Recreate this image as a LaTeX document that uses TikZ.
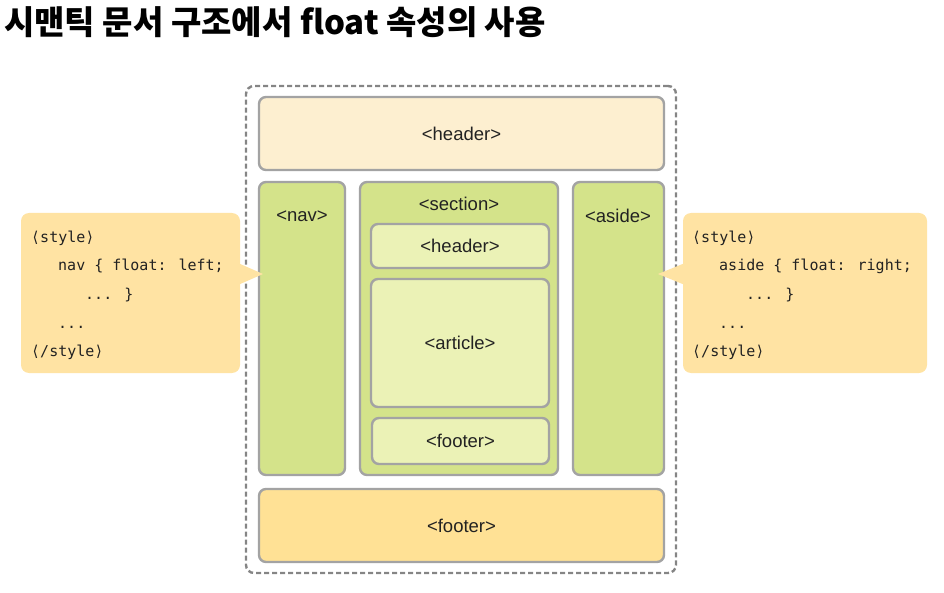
\documentclass[tikz,border=0pt]{standalone}
\usepackage{fontspec}
\setmainfont{Liberation Sans}
\newfontfamily\krfont{Noto Sans CJK KR}
\newfontfamily\codefont{DejaVu Sans Mono}
\definecolor{hdrfill}{HTML}{FDEFD0}
\definecolor{greenfill}{HTML}{D4E38A}
\definecolor{lightgreen}{HTML}{EBF2B6}
\definecolor{ftrfill}{HTML}{FFE195}
\definecolor{callfill}{HTML}{FFE3A3}
\definecolor{boxgray}{HTML}{A3A3A3}
\definecolor{dashgray}{HTML}{858585}
\definecolor{txt}{HTML}{222222}
\tikzset{
  box/.style={draw=boxgray, line width=2.4pt, rounded corners=7pt, inner sep=0pt,
    text=txt, font=\fontsize{18.5}{20}\selectfont},
  lbl/.style={inner sep=0pt, text=txt, font=\fontsize{18.5}{20}\selectfont},
  code/.style={inner sep=0pt, anchor=base west, text=txt, font=\codefont\fontsize{15}{18}\selectfont},
  callout/.style={fill=callfill, rounded corners=8pt},
}
\begin{document}
\begin{tikzpicture}[x=1pt,y=-1pt]
\useasboundingbox (0,0) rectangle (944,593);
% title
\node[inner sep=0pt, anchor=base west, font=\krfont\bfseries\fontsize{33}{36}\selectfont] (title) at (4,35) {시맨틱 문서 구조에서 float 속성의 사용};
% outer dashed container
\node[draw=dashgray, line width=2.4pt, dash pattern=on 5pt off 3pt, rounded corners=8pt,
  minimum width=430pt, minimum height=487pt, inner sep=0pt] (page) at (461,329.5) {};
% header and footer
\node[box, fill=hdrfill, minimum width=405pt, minimum height=73pt] (header) at (461.5,133.5) {<header>};
\node[box, fill=ftrfill, minimum width=405pt, minimum height=73pt] (footer) at (461.5,525.5) {<footer>};
% columns
\node[box, fill=greenfill, minimum width=86pt, minimum height=293pt] (nav) at (302,328.5) {};
\node[box, fill=greenfill, minimum width=198pt, minimum height=293pt] (section) at (459,328.5) {};
\node[box, fill=greenfill, minimum width=91pt, minimum height=293pt] (aside) at (618.5,328.5) {};
\node[lbl] (navlbl) at (302,216) {<nav>};
\node[lbl] (seclbl) at (459,204) {<section>};
\node[lbl] (asidelbl) at (618,216) {<aside>};
% inner section boxes
\node[box, fill=lightgreen, minimum width=178pt, minimum height=44pt] (sheader) at (460,246) {<header>};
\node[box, fill=lightgreen, minimum width=178pt, minimum height=128pt] (article) at (460,343) {<article>};
\node[box, fill=lightgreen, minimum width=177pt, minimum height=46pt] (sfooter) at (460.5,441) {<footer>};
% callouts
\coordinate (ltip) at (263,274);
\coordinate (rtip) at (658,274);
\path[callout] (21,213) rectangle (240,373);
\fill[callfill] (238,263) -- (ltip) -- (238,285) -- cycle;
\path[callout] (683,213) rectangle (927,373);
\fill[callfill] (685,263) -- (rtip) -- (685,285) -- cycle;
% left code
\node[code] (l1) at (31,243) {⟨style⟩};
\node[code] (l2) at (58,271) {nav \{ float: left;};
\node[code] (l3) at (85,299.5) {... \}};
\node[code] (l4) at (58,328) {...};
\node[code] (l5) at (31,356) {⟨/style⟩};
% right code
\node[code] (r1) at (692,243) {⟨style⟩};
\node[code] (r2) at (719,271) {aside \{ float: right;};
\node[code] (r3) at (746,299.5) {... \}};
\node[code] (r4) at (719,328) {...};
\node[code] (r5) at (692,356) {⟨/style⟩};
\end{tikzpicture}
\end{document}
